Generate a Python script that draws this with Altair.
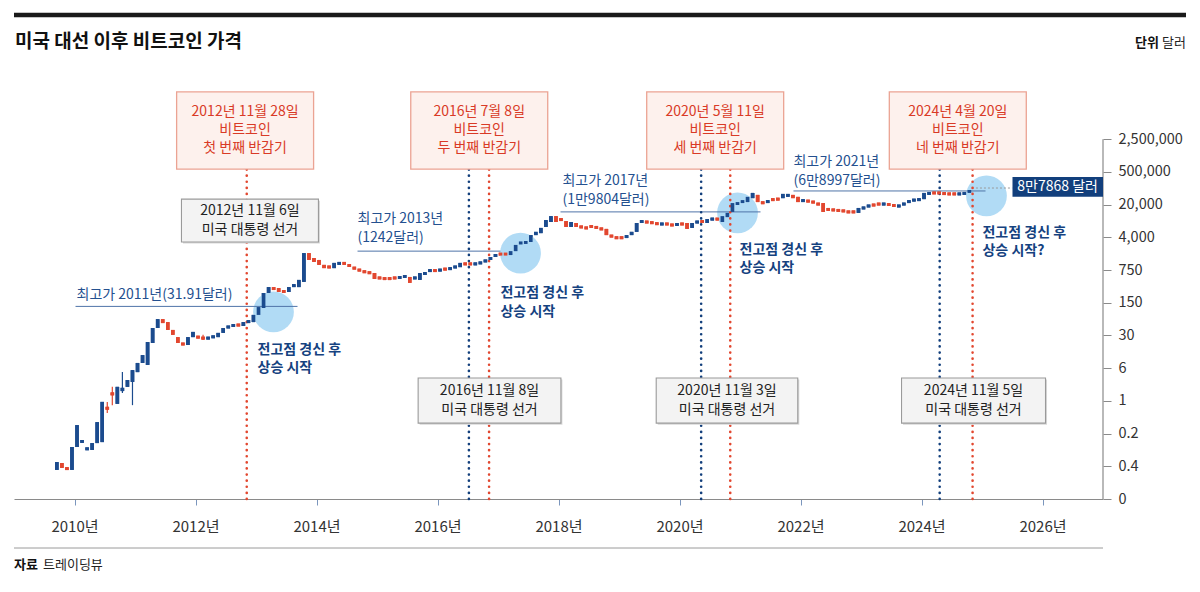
import json
import altair as alt
import pandas as pd

FONT = "Noto Sans CJK KR"

# ---------------- data ----------------
title_text = "미국 대선 이후 비트코인 가격"
unit_bold, unit_text = "단위", "달러"
source_bold, source_text = "자료", "트레이딩뷰"

# monthly candles (value = position on the chart's stepped y axis, 0..11)
start_month = "2009-09"
opens = [0.89, 1.10, 0.95, 0.89, 1.59, 1.74, 1.52, 1.50, 1.71, 1.74,
         2.80, 3.25, 2.91, 3.30, 3.43, 3.58, 3.88, 4.16, 4.10, 4.77,
         5.23, 5.50, 5.41, 5.17, 4.95, 4.77, 4.71, 4.95, 4.98, 4.95,
         4.89, 4.93, 4.95, 5.08, 5.23, 5.26, 5.35, 5.29, 5.38, 5.41,
         5.63, 5.84, 6.30, 6.48, 6.45, 6.39, 6.33, 6.48, 6.48, 6.64,
         7.52, 7.37, 7.31, 7.16, 7.13, 7.06, 7.19, 7.22, 7.16, 7.09,
         7.03, 6.97, 6.94, 6.91, 6.79, 6.76, 6.76, 6.79, 6.76, 6.76,
         6.79, 6.73, 6.70, 6.85, 6.94, 7.03, 6.97, 7.06, 7.03, 7.06,
         7.09, 7.22, 7.22, 7.16, 7.19, 7.25, 7.31, 7.40, 7.52, 7.52,
         7.46, 7.58, 7.80, 7.83, 7.86, 8.07, 8.13, 8.32, 8.47, 8.65,
         8.59, 8.50, 8.32, 8.44, 8.35, 8.32, 8.35, 8.32, 8.29, 8.26,
         8.07, 8.01, 8.01, 7.98, 8.07, 8.17, 8.44, 8.50, 8.47, 8.44,
         8.38, 8.44, 8.41, 8.35, 8.44, 8.44, 8.29, 8.44, 8.53, 8.44,
         8.53, 8.59, 8.47, 8.62, 8.78, 8.99, 9.05, 9.08, 9.20, 9.30,
         9.08, 9.05, 9.20, 9.20, 9.20, 9.24, 9.30, 9.24, 9.08, 9.14,
         9.11, 9.05, 9.05, 8.90, 8.87, 8.87, 8.84, 8.81, 8.81, 8.75,
         8.87, 8.93, 9.02, 9.05, 8.99, 9.05, 9.02, 8.93, 8.99, 9.05,
         9.11, 9.11, 9.17, 9.30, 9.39, 9.39, 9.36, 9.36, 9.36, 9.30,
         9.30, 9.36]
closes = [1.13, 0.95, 0.91, 1.59, 2.26, 1.78, 1.55, 1.71, 2.35, 2.97,
          2.75, 3.18, 3.43, 3.40, 3.64, 3.94, 4.16, 4.40, 4.80, 5.23,
          5.50, 5.38, 5.17, 5.02, 4.77, 4.71, 4.95, 5.11, 4.92, 4.89,
          4.95, 4.99, 5.08, 5.23, 5.29, 5.35, 5.29, 5.41, 5.47, 5.63,
          5.87, 6.30, 6.48, 6.39, 6.33, 6.30, 6.48, 6.57, 6.70, 7.52,
          7.31, 7.25, 7.16, 7.06, 7.06, 7.22, 7.22, 7.19, 7.12, 7.03,
          6.97, 6.93, 6.90, 6.73, 6.73, 6.72, 6.72, 6.73, 6.79, 6.85,
          6.61, 6.79, 6.91, 6.94, 7.03, 6.94, 7.03, 7.00, 7.06, 7.13,
          7.22, 7.16, 7.16, 7.22, 7.25, 7.31, 7.40, 7.49, 7.46, 7.46,
          7.58, 7.77, 7.86, 7.86, 8.07, 8.17, 8.29, 8.53, 8.65, 8.47,
          8.50, 8.32, 8.47, 8.32, 8.29, 8.26, 8.32, 8.29, 8.23, 8.07,
          8.01, 7.97, 7.97, 8.07, 8.17, 8.44, 8.53, 8.44, 8.43, 8.40,
          8.44, 8.38, 8.35, 8.44, 8.38, 8.26, 8.44, 8.50, 8.44, 8.56,
          8.59, 8.53, 8.65, 8.75, 9.05, 9.08, 9.14, 9.24, 9.36, 9.08,
          9.04, 9.14, 9.11, 9.14, 9.33, 9.33, 9.20, 9.08, 9.17, 9.08,
          9.05, 8.99, 8.78, 8.81, 8.81, 8.78, 8.78, 8.75, 8.75, 8.90,
          8.93, 8.99, 8.96, 8.99, 9.05, 8.96, 8.93, 8.99, 9.05, 9.14,
          9.17, 9.20, 9.36, 9.39, 9.33, 9.33, 9.32, 9.30, 9.30, 9.36,
          9.39, 9.45]
wick_index = [10, 11, 13, 15, 29]
wick_high = [2.97, 3.43, 3.88, 3.94, 5.02]
wick_low = [2.63, 2.87, 3.24, 2.87, 4.86]

y_tick_labels = ["0", "0.4", "0.2", "1", "6", "30", "150", "750",
                 "4,000", "20,000", "500,000", "2,500,000"]
x_ticks = [2010, 2012, 2014, 2016, 2018, 2020, 2022, 2024, 2026]

halving_dates = ["2012-11-28", "2016-07-09", "2020-05-11", "2024-04-20"]
halving_lines = [["2012년 11월 28일", "비트코인", "첫 번째 반감기"],
                 ["2016년 7월 8일", "비트코인", "두 번째 반감기"],
                 ["2020년 5월 11일", "비트코인", "세 번째 반감기"],
                 ["2024년 4월 20일", "비트코인", "네 번째 반감기"]]
election_dates = ["2012-11-06", "2016-11-08", "2020-11-03", "2024-11-05"]
election_lines = [["2012년 11월 6일", "미국 대통령 선거"],
                  ["2016년 11월 8일", "미국 대통령 선거"],
                  ["2020년 11월 3일", "미국 대통령 선거"],
                  ["2024년 11월 5일", "미국 대통령 선거"]]

peak_texts = [["최고가 2011년(31.91달러)"],
              ["최고가 2013년", "(1242달러)"],
              ["최고가 2017년", "(1만9804달러)"],
              ["최고가 2021년", "(6만8997달러)"]]
breakout_texts = [["전고점 경신 후", "상승 시작"], ["전고점 경신 후", "상승 시작"],
                  ["전고점 경신 후", "상승 시작"], ["전고점 경신 후", "상승 시작?"]]
last_price_label = "8만7868 달러"

# ---------------- layout (annotation placement) ----------------
BLUE = "#1b4b8e"
RED = "#e2472f"
NAVY = "#123f7c"
W, H = 1089, 439
XS = alt.Scale(domain=[2009, 2027], nice=False, zero=False)
YS = alt.Scale(domain=[0, 13.425], nice=False, zero=False)
XAX = alt.Axis(values=x_ticks, labelExpr="datum.value + '년'", grid=False,
               domainColor="#8a8a8a", domainWidth=1.2, tickColor="#7b96bd",
               tickSize=6, labelPadding=14, labelFont=FONT, labelFontSize=15,
               labelColor="#333333", title=None)
YAX = alt.Axis(orient="right", values=list(range(12)),
               labelExpr=json.dumps(y_tick_labels) + "[datum.value]",
               domain=False, grid=False, tickColor="#8a8a8a", tickSize=8,
               labelPadding=7, labelFont=FONT, labelFontSize=14.5,
               labelColor="#333333", title=None)


def dec_year(s):
    d = pd.Timestamp(s)
    return d.year + (d.dayofyear - 1) / (366 if d.is_leap_year else 365)


def X(f):
    return alt.X(f, type="quantitative", scale=XS, axis=XAX)


def Y(f):
    return alt.Y(f, type="quantitative", scale=YS, axis=YAX)


# candles
months = pd.date_range(start=start_month, periods=len(opens), freq="MS")
cd = pd.DataFrame({"t": months.year + (months.month - 0.5) / 12,
                   "o": opens, "c": closes})
cd["up"] = cd["c"] >= cd["o"]
mid = (cd["o"] + cd["c"]) / 2
half = ((cd["c"] - cd["o"]).abs() / 2).clip(lower=0.045)
cd["lo"] = mid - half
cd["hi"] = mid + half
cd["col"] = cd["up"].map({True: BLUE, False: RED})

wk = pd.DataFrame({"t": cd["t"].iloc[wick_index].values, "hi": wick_high, "lo": wick_low,
                   "col": cd["col"].iloc[wick_index].values})

candles = alt.Chart(cd).mark_rule(strokeWidth=3.6, strokeCap="butt").encode(
    x=X("t"), y=Y("lo"), y2="hi:Q", color=alt.Color("col:N", scale=None))
wicks = alt.Chart(wk).mark_rule(strokeWidth=1.2).encode(
    x=X("t"), y=Y("lo"), y2="hi:Q", color=alt.Color("col:N", scale=None))

yaxis_line = alt.Chart(pd.DataFrame({"a": [0], "b": [11]})).mark_rule(
    color="#8a8a8a", strokeWidth=1.2).encode(x=alt.value(W), y=Y("a"), y2="b:Q")

# event dotted lines
ev = pd.DataFrame({
    "t": [dec_year(d) for d in election_dates] + [dec_year(d) for d in halving_dates[1:]],
    "col": [RED] * 4 + [NAVY] * 3})
ev["top"] = 10.1
ev["bot"] = 0
event_lines = alt.Chart(ev).mark_rule(strokeWidth=2.6, strokeDash=[0.1, 6],
                                      strokeCap="round").encode(
    x=X("t"), y=Y("bot"), y2="top:Q", color=alt.Color("col:N", scale=None))

# halving boxes (top)
h_center = [2012.82, 2016.69, 2020.59, 2024.60]
hb = pd.DataFrame({"x1": [c - 1.132 for c in h_center], "x2": [c + 1.132 for c in h_center],
                   "y1": 10.09, "y2": 12.45})
h_boxes = alt.Chart(hb).mark_rect(fill="#fdf1ed", stroke="#eba393", strokeWidth=1.3).encode(
    x=X("x1"), x2="x2:Q", y=Y("y1"), y2="y2:Q")
h_rows = []
for c, lines in zip(h_center, halving_lines):
    for lv, s in zip([11.83, 11.28, 10.73], lines):
        h_rows.append({"x": c, "y": lv, "s": s})
h_text = alt.Chart(pd.DataFrame(h_rows)).mark_text(
    font=FONT, fontSize=14, color="#d93a26", align="center", baseline="middle").encode(
    x=X("x"), y=Y("y"), text="s:N")

# election boxes
e_center = [2012.90, 2016.86, 2020.785, 2024.86]
e_half = [1.132, 1.18, 1.17, 1.19]
e_y = [(7.86, 9.17), (2.32, 3.70), (2.32, 3.70), (2.32, 3.70)]
e_ty = [(8.80, 8.23), (3.30, 2.73), (3.30, 2.73), (3.30, 2.73)]
eb = pd.DataFrame({"x1": [c - h for c, h in zip(e_center, e_half)],
                   "x2": [c + h for c, h in zip(e_center, e_half)],
                   "y1": [a for a, b in e_y], "y2": [b for a, b in e_y]})
e_shadow = alt.Chart(eb).mark_rect(fill="#d8d8d8", xOffset=1.5, yOffset=1.5,
                                   x2Offset=1.5, y2Offset=1.5).encode(
    x=X("x1"), x2="x2:Q", y=Y("y1"), y2="y2:Q")
e_boxes = alt.Chart(eb).mark_rect(fill="#f3f3f3", stroke="#9a9a9a", strokeWidth=1.1).encode(
    x=X("x1"), x2="x2:Q", y=Y("y1"), y2="y2:Q")
e_rows = []
for c, tys, lines in zip(e_center, e_ty, election_lines):
    for lv, s in zip(tys, lines):
        e_rows.append({"x": c, "y": lv, "s": s})
e_text = alt.Chart(pd.DataFrame(e_rows)).mark_text(
    font=FONT, fontSize=14, color="#222222", align="center", baseline="middle").encode(
    x=X("x"), y=Y("y"), text="s:N")

# breakout circles
circ = pd.DataFrame({"x": [2013.289, 2017.372, 2020.959, 2025.074],
                     "y": [5.72, 7.52, 8.75, 9.27]})
circles = alt.Chart(circ).mark_circle(size=1662, color="#a3d5f3", opacity=0.85).encode(
    x=X("x"), y=Y("y"))

# previous-high lines
pk = pd.DataFrame({"x1": [2010.017, 2014.678, 2018.033, 2021.884],
                   "x2": [2013.686, 2017.041, 2021.339, 2025.058],
                   "y": [5.89, 7.58, 8.78, 9.42]})
peak_lines = alt.Chart(pk).mark_rule(color="#4f74a8", strokeWidth=1).encode(
    x=X("x1"), x2="x2:Q", y=Y("y"))
pk_pos = [(2010.033, [6.24]), (2014.678, [8.56, 7.98]),
          (2018.066, [9.72, 9.14]), (2021.884, [10.31, 9.72])]
pk_rows = []
for (x0, lvs), lines in zip(pk_pos, peak_texts):
    for lv, s in zip(lvs, lines):
        pk_rows.append({"x": x0, "y": lv, "s": s})
peak_text = alt.Chart(pd.DataFrame(pk_rows)).mark_text(
    font=FONT, fontSize=14, color="#24508f", align="left", baseline="middle").encode(
    x=X("x"), y=Y("y"), text="s:N")

bo_pos = [(2013.025, [4.56, 4.01]), (2017.041, [6.30, 5.72]),
          (2020.992, [7.61, 7.06]), (2025.008, [8.13, 7.58])]
bo_rows = []
for (x0, lvs), lines in zip(bo_pos, breakout_texts):
    for lv, s in zip(lvs, lines):
        bo_rows.append({"x": x0, "y": lv, "s": s})
bo_text = alt.Chart(pd.DataFrame(bo_rows)).mark_text(
    font=FONT, fontSize=14, fontWeight="bold", color="#15427f", align="left",
    baseline="middle").encode(x=X("x"), y=Y("y"), text="s:N")

# last price label
lp_line = alt.Chart(pd.DataFrame({"x1": [2024.9], "x2": [2025.5], "y": [9.51]})).mark_rule(
    color="#9a9a9a", strokeWidth=1, strokeDash=[2, 2]).encode(x=X("x1"), x2="x2:Q", y=Y("y"))
lp_box = alt.Chart(pd.DataFrame({"x1": [2025.504], "x2": [2027.0],
                                 "y1": [9.24], "y2": [9.85]})).mark_rect(fill=NAVY).encode(
    x=X("x1"), x2="x2:Q", y=Y("y1"), y2="y2:Q")
lp_text = alt.Chart(pd.DataFrame({"x": [2026.25], "y": [9.545], "s": [last_price_label]})).mark_text(
    font=FONT, fontSize=14, color="white", align="center", baseline="middle").encode(
    x=X("x"), y=Y("y"), text="s:N")

# frame: title, top bar, unit, source
one = pd.DataFrame({"a": [0]})
top_bar = alt.Chart(one).mark_rule(color="#1a1a1a", strokeWidth=4.5).encode(
    x=alt.value(0), x2=alt.value(1172), y=alt.value(-45))
title = alt.Chart(one).mark_text(font=FONT, fontSize=19, fontWeight="bold", color="#111111",
                                 align="left", baseline="middle").encode(
    x=alt.value(1), y=alt.value(-18), text=alt.value(title_text))
unit_b = alt.Chart(one).mark_text(font=FONT, fontSize=13, fontWeight="bold", color="#111111",
                                  align="right", baseline="middle").encode(
    x=alt.value(1145), y=alt.value(-17), text=alt.value(unit_bold))
unit_t = alt.Chart(one).mark_text(font=FONT, fontSize=13, color="#222222",
                                  align="right", baseline="middle").encode(
    x=alt.value(1172), y=alt.value(-17), text=alt.value(unit_text))
bottom_line = alt.Chart(one).mark_rule(color="#9a9a9a", strokeWidth=1).encode(
    x=alt.value(0), x2=alt.value(W), y=alt.value(488))
src_b = alt.Chart(one).mark_text(font=FONT, fontSize=13, fontWeight="bold", color="#111111",
                                 align="left", baseline="middle").encode(
    x=alt.value(0), y=alt.value(505), text=alt.value(source_bold))
src_t = alt.Chart(one).mark_text(font=FONT, fontSize=13, color="#222222",
                                 align="left", baseline="middle").encode(
    x=alt.value(29), y=alt.value(505), text=alt.value(source_text))

chart = alt.layer(
    candles, circles, peak_lines, event_lines, wicks, candles, yaxis_line,
    h_boxes, h_text, e_shadow, e_boxes, e_text, peak_text, bo_text,
    lp_line, lp_box, lp_text,
    top_bar, title, unit_b, unit_t, bottom_line, src_b, src_t,
).properties(
    width=W, height=H,
    autosize=alt.AutoSizeParams(type="none"),
    padding={"left": 6, "top": 52, "right": 89, "bottom": 85},
).configure(background="white").configure_view(stroke=None)

chart.save("out.html", embed_options={"renderer": "svg", "actions": False})
